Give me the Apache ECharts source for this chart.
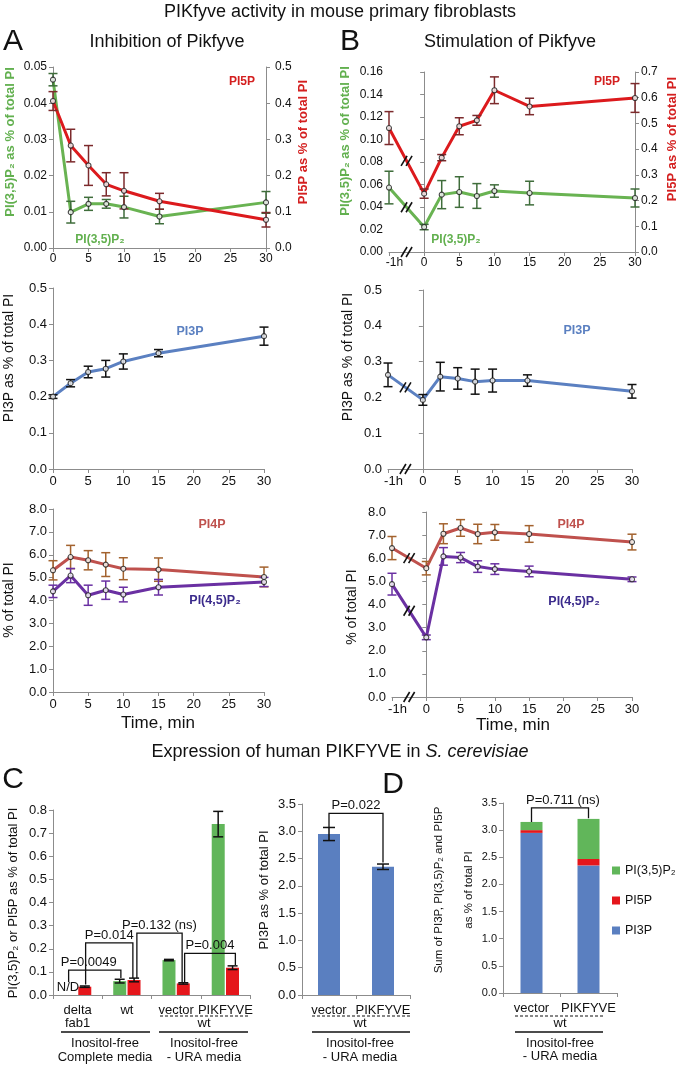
<!DOCTYPE html>
<html><head><meta charset="utf-8">
<script src="https://cdn.jsdelivr.net/npm/echarts/dist/echarts.min.js"></script>
<style>html,body{margin:0;padding:0;background:#fff}#c{width:680px;height:1065px}</style>
</head><body><div id="c"></div><script>
// ---------------- DATA ----------------
// Panel A: inhibition of Pikfyve (time, min)
const timeA = [0, 2.5, 5, 7.5, 10, 15, 30];
const aPI35P2 = [0.0465, 0.0099, 0.0122, 0.0122, 0.0113, 0.0087, 0.0126];
const aPI35P2Err = [0.0017, 0.0030, 0.0018, 0.0012, 0.0030, 0.0020, 0.0030];
const aPI5P = [0.406, 0.283, 0.228, 0.176, 0.158, 0.129, 0.078];
const aPI5PErr = [0.026, 0.045, 0.055, 0.032, 0.050, 0.022, 0.020];
const aPI3P = [0.200, 0.237, 0.268, 0.277, 0.297, 0.320, 0.367];
const aPI3PErr = [0.005, 0.010, 0.016, 0.023, 0.021, 0.010, 0.025];
const aPI4P = [5.32, 5.90, 5.76, 5.57, 5.39, 5.35, 5.03];
const aPI4PErr = [0.42, 0.51, 0.42, 0.52, 0.48, 0.51, 0.43];
const aPI45P2 = [4.40, 5.09, 4.23, 4.45, 4.26, 4.58, 4.81];
const aPI45P2Err = [0.27, 0.31, 0.44, 0.40, 0.32, 0.34, 0.20];

// Panel B: stimulation of Pikfyve; -5 on the axis is the "-1h" point
const timeB = [-5, 0, 2.5, 5, 7.5, 10, 15, 30];
const bPI35P2 = [0.0573, 0.0222, 0.0510, 0.0533, 0.0498, 0.0542, 0.0524, 0.0480];
const bPI35P2Err = [0.0145, 0.0024, 0.0125, 0.0136, 0.0110, 0.0055, 0.0105, 0.0080];
const bPI5P = [0.482, 0.227, 0.367, 0.489, 0.512, 0.629, 0.566, 0.599];
const bPI5PErr = [0.064, 0.018, 0.012, 0.033, 0.019, 0.052, 0.032, 0.056];
const bPI3P = [0.263, 0.193, 0.258, 0.253, 0.244, 0.247, 0.247, 0.217];
const bPI3PErr = [0.033, 0.015, 0.040, 0.030, 0.035, 0.032, 0.016, 0.019];
const bPI4P = [6.44, 5.57, 7.06, 7.31, 7.05, 7.12, 7.05, 6.70];
const bPI4PErr = [0.50, 0.29, 0.43, 0.36, 0.42, 0.34, 0.36, 0.34];
const bPI45P2 = [4.88, 2.58, 6.08, 6.03, 5.64, 5.53, 5.43, 5.09];
const bPI45P2Err = [0.47, 0.10, 0.38, 0.22, 0.25, 0.23, 0.23, 0.10];
const bFirstTickLabel = '-1h';

// Panel C: S. cerevisiae
const cCats = ['delta\nfab1', 'wt', 'vector', 'PIKFYVE'];
const cPI35P2 = [null, 0.060, 0.151, 0.739];   // delta fab1: N/D
const cPI35P2Err = [null, 0.008, 0.003, 0.055];
const cPI5P = [0.036, 0.065, 0.050, 0.118];
const cPI5PErr = [0.003, 0.008, 0.003, 0.008];
const cBrLabels = ['P=0.0049', 'P=0.014', 'P=0.132 (ns)', 'P=0.004'];
const cBrFrom = [[0, 0.056], [0, 0.045], [1, 0.073], [2, 0.056]];
const cBrTo = [[1, 0.073], [1, 0.073], [2, 0.056], [3, 0.130]];
const cBrTop = [0.108, 0.225, 0.268, 0.180];

const c3Cats = ['vector', 'PIKFYVE'];
const cPI3P = [2.95, 2.35];
const cPI3PErr = [0.12, 0.05];
const c3BrLabels = ['P=0.022'];
const c3BrFrom = [[0, 3.08]];
const c3BrTo = [[1, 2.43]];
const c3BrTop = [3.33];

// Panel D: stacked sums (same wt / -URA samples)
const dCats = ['vector', 'PIKFYVE'];
const dPI3P = [2.95, 2.35];
const dPI5P = [0.050, 0.118];
const dPI35P2 = [0.151, 0.739];
const dBrLabels = ['P=0.711 (ns)'];
const dBrFrom = [[0, 3.15]];
const dBrTo = [[1, 3.22]];
const dBrTop = [3.41];

// ---------------- STYLE ----------------
const FF = '"Liberation Sans", Arial, Helvetica, sans-serif';
const GREEN = '#69b352', GREEN_ERR = '#3f6d3b', GREEN_TXT = '#62b04f';
const RED = '#dc1a1d', RED_ERR = '#7c2a2c', RED_TXT = '#d42020';
const BLUE = '#5b80c1';
const PI4P_C = '#bf514d', PI4P_ERR = '#a3622e';
const PURPLE = '#6a30a2', PURPLE_TXT = '#3b2b8c';
const GREEN_BAR = '#61b65a', RED_BAR = '#e5161b', BLUE_BAR = '#5a7fc0';
const AX = '#8c8c8c';

const chart = echarts.init(document.getElementById('c'), null, {renderer: 'canvas'});

const grids = [
  {left: 53, top: 67, width: 213, height: 181},   // 0 A top
  {left: 53, top: 288, width: 211, height: 181},  // 1 A mid
  {left: 53, top: 509, width: 211, height: 183},  // 2 A bottom
  {left: 389, top: 72, width: 246, height: 180},  // 3 B top
  {left: 388, top: 290, width: 244, height: 179}, // 4 B mid
  {left: 392, top: 512, width: 240, height: 185}, // 5 B bottom
  {left: 53, top: 810, width: 197, height: 185},  // 6 C left
  {left: 302, top: 804, width: 108, height: 191}, // 7 C right
  {left: 503, top: 803, width: 114, height: 190}  // 8 D
];

function valAxis(grid, min, max, interval, dec, fs, extra) {
  return Object.assign({
    type: 'value', gridIndex: grid, min: min, max: max, interval: interval,
    axisLine: {show: true, lineStyle: {color: AX, width: 1}},
    axisTick: {show: true, length: 4, lineStyle: {color: AX}},
    splitLine: {show: false},
    axisLabel: {color: '#111', fontSize: fs, fontFamily: FF, margin: 6,
      formatter: v => v.toFixed(dec)}
  }, extra || {});
}
function catAxis(grid, cats, fs) {
  return {
    type: 'category', gridIndex: grid, data: cats,
    axisLine: {show: true, lineStyle: {color: AX, width: 1}},
    axisTick: {show: true, length: 4, lineStyle: {color: AX}, alignWithLabel: false},
    axisLabel: {color: '#111', fontSize: fs, fontFamily: FF, margin: 9, lineHeight: 13, interval: 0}
  };
}

const bFmt = v => (v === timeB[0] ? '{h|' + bFirstTickLabel + '}' : String(v));
const bRich = {h: {padding: [0, 0, 0, 11]}};
const xAxes = [
  valAxis(0, 0, 30, 5, 0, 12, {axisLabel: {color: '#111', fontSize: 12, fontFamily: FF, margin: 5}}),
  valAxis(1, 0, 30, 5, 0, 13, {axisLabel: {color: '#111', fontSize: 13, fontFamily: FF, margin: 6}}),
  valAxis(2, 0, 30, 5, 0, 13, {axisLabel: {color: '#111', fontSize: 13, fontFamily: FF, margin: 6}}),
  valAxis(3, -5, 30, 5, 0, 12, {axisLabel: {color: '#111', fontSize: 12, fontFamily: FF, margin: 5, formatter: bFmt, rich: bRich}}),
  valAxis(4, -5, 30, 5, 0, 13, {axisLabel: {color: '#111', fontSize: 13, fontFamily: FF, margin: 6, formatter: bFmt, rich: bRich}}),
  valAxis(5, -5, 30, 5, 0, 13, {axisLabel: {color: '#111', fontSize: 13, fontFamily: FF, margin: 6, formatter: bFmt, rich: bRich}}),
  catAxis(6, cCats, 13),
  catAxis(7, c3Cats, 13),
  catAxis(8, dCats, 13)
];
const yAxes = [
  valAxis(0, 0, 0.05, 0.01, 2, 12),                         // 0
  valAxis(0, 0, 0.5, 0.1, 1, 12, {position: 'right'}),      // 1
  valAxis(1, 0, 0.5, 0.1, 1, 13),                           // 2
  valAxis(2, 0, 8, 1, 1, 13),                               // 3
  valAxis(3, 0, 0.16, 0.02, 2, 12),                         // 4
  valAxis(3, 0, 0.7, 0.1, 1, 12, {position: 'right'}),      // 5
  valAxis(4, 0, 0.5, 0.1, 1, 13),                           // 6
  valAxis(5, 0, 8, 1, 1, 13),                               // 7
  valAxis(6, 0, 0.8, 0.1, 1, 13),                           // 8
  valAxis(7, 0, 3.5, 0.5, 1, 13),                           // 9
  valAxis(8, 0, 3.5, 0.5, 1, 11)                            // 10
];
yAxes[1].axisLabel.margin = 9;
yAxes[5].axisLabel.margin = 6;

function errRender(color, cap, dx, lw) {
  return function (params, api) {
    const lo = api.coord([api.value(0), api.value(1)]);
    const hi = api.coord([api.value(0), api.value(2)]);
    const x = lo[0] + dx;
    const st = {stroke: color, lineWidth: lw};
    return {type: 'group', children: [
      {type: 'line', shape: {x1: x, y1: lo[1], x2: x, y2: hi[1]}, style: st},
      {type: 'line', shape: {x1: x - cap, y1: lo[1], x2: x + cap, y2: lo[1]}, style: st},
      {type: 'line', shape: {x1: x - cap, y1: hi[1], x2: x + cap, y2: hi[1]}, style: st}
    ]};
  };
}
function errSeries(xi, yi, xs, vals, errs, color, cap, dx, lw, z) {
  const data = [];
  xs.forEach((x, i) => { if (vals[i] != null) data.push([x, vals[i] - errs[i], vals[i] + errs[i]]); });
  return {type: 'custom', xAxisIndex: xi, yAxisIndex: yi, z: z || 3, silent: true, animation: false,
    data: data, encode: {x: 0, y: [1, 2]}, renderItem: errRender(color, cap, dx, lw)};
}
function lineSet(xi, yi, xs, vals, errs, color, errColor) {
  const pts = xs.map((x, i) => [x, vals[i]]);
  return [
    {type: 'line', xAxisIndex: xi, yAxisIndex: yi, data: pts, showSymbol: false, silent: true,
      lineStyle: {color: color, width: 3}, z: 2, animation: false},
    errSeries(xi, yi, xs, vals, errs, errColor, 4.5, 0, 1.5, 3),
    {type: 'scatter', xAxisIndex: xi, yAxisIndex: yi, data: pts, symbol: 'circle', symbolSize: 5,
      itemStyle: {color: '#fff', borderColor: '#1a1a1a', borderWidth: 1.1}, z: 4, silent: true, animation: false}
  ];
}
function slashes(cx, cy) {
  const ch = [];
  [-2.5, 2.5].forEach(d => ch.push({type: 'line',
    shape: {x1: cx + d - 3, y1: cy + 5, x2: cx + d + 3, y2: cy - 5},
    style: {stroke: '#111', lineWidth: 1.6}}));
  return {type: 'group', children: ch};
}
// break mark drawn at the pixel midpoint of the segment between the first two points
function breakSeries(xi, yi, xs, vals) {
  return {type: 'custom', xAxisIndex: xi, yAxisIndex: yi, z: 6, silent: true, animation: false,
    data: [[xs[0], vals[0]], [xs[1], vals[1]]],
    renderItem: function (params, api) {
      if (params.dataIndex !== 0) return null;
      const p0 = api.coord([xs[0], vals[0]]);
      const p1 = api.coord([xs[1], vals[1]]);
      return slashes((p0[0] + p1[0]) / 2, (p0[1] + p1[1]) / 2);
    }};
}
function bracketSeries(xi, yi, labels, from, to, top, dxFrom, dxTo, textDx, fs) {
  return {type: 'custom', xAxisIndex: xi, yAxisIndex: yi, z: 7, silent: true, animation: false,
    data: labels.map((l, i) => [from[i][0], top[i]]),
    renderItem: function (params, api) {
      const i = params.dataIndex;
      const a = api.coord([from[i][0], from[i][1]]);
      const b = api.coord([to[i][0], to[i][1]]);
      const t = api.coord([from[i][0], top[i]])[1];
      const ax = a[0] + dxFrom[i], bx = b[0] + dxTo[i];
      return {type: 'group', children: [
        {type: 'polyline', shape: {points: [[ax, a[1]], [ax, t], [bx, t], [bx, b[1]]]},
          style: {stroke: '#111', lineWidth: 1.3, fill: null}},
        {type: 'text', x: (ax + bx) / 2 + textDx[i], y: t - 1,
          style: {text: labels[i], fill: '#111', fontSize: fs, fontFamily: FF,
            align: 'center', textAlign: 'center', verticalAlign: 'bottom', textVerticalAlign: 'bottom'}}
      ]};
    }};
}

let series = [];
// Panel A
series = series.concat(lineSet(0, 0, timeA, aPI35P2, aPI35P2Err, GREEN, GREEN_ERR));
series = series.concat(lineSet(0, 1, timeA, aPI5P, aPI5PErr, RED, RED_ERR));
series = series.concat(lineSet(1, 2, timeA, aPI3P, aPI3PErr, BLUE, '#111'));
series = series.concat(lineSet(2, 3, timeA, aPI4P, aPI4PErr, PI4P_C, PI4P_ERR));
series = series.concat(lineSet(2, 3, timeA, aPI45P2, aPI45P2Err, PURPLE, PURPLE));
// Panel B
series = series.concat(lineSet(3, 4, timeB, bPI35P2, bPI35P2Err, GREEN, GREEN_ERR));
series = series.concat(lineSet(3, 5, timeB, bPI5P, bPI5PErr, RED, RED_ERR));
series = series.concat(lineSet(4, 6, timeB, bPI3P, bPI3PErr, BLUE, '#111'));
series = series.concat(lineSet(5, 7, timeB, bPI4P, bPI4PErr, PI4P_C, PI4P_ERR));
series = series.concat(lineSet(5, 7, timeB, bPI45P2, bPI45P2Err, PURPLE, PURPLE));
series.push(breakSeries(3, 4, timeB, bPI35P2));
series.push(breakSeries(3, 5, timeB, bPI5P));
series.push(breakSeries(3, 4, timeB, [0, 0]));
series.push(breakSeries(4, 6, timeB, bPI3P));
series.push(breakSeries(4, 6, timeB, [0, 0]));
series.push(breakSeries(5, 7, timeB, bPI4P));
series.push(breakSeries(5, 7, timeB, bPI45P2));
series.push(breakSeries(5, 7, timeB, [0, 0]));

// Panel C left
const cIdx = cCats.map((c, i) => i);
series.push({type: 'bar', xAxisIndex: 6, yAxisIndex: 8, data: cPI35P2.map(v => v == null ? '-' : v),
  barWidth: 13, barGap: '10%', itemStyle: {color: GREEN_BAR}, silent: true, animation: false});
series.push({type: 'bar', xAxisIndex: 6, yAxisIndex: 8, data: cPI5P,
  barWidth: 13, barGap: '10%', itemStyle: {color: RED_BAR}, silent: true, animation: false});
series.push(errSeries(6, 8, cIdx, cPI35P2, cPI35P2Err, '#111', 5, -7.2, 1.5, 5));
series.push(errSeries(6, 8, cIdx, cPI5P, cPI5PErr, '#111', 5, 7.2, 1.5, 5));
series.push(bracketSeries(6, 8, cBrLabels, cBrFrom, cBrTo, cBrTop,
  [-9, 8, 10, 8.5], [-6, 6, 6, 10], [-6, 0, 0, 0], 13));
// Panel C right
series.push({type: 'bar', xAxisIndex: 7, yAxisIndex: 9, data: cPI3P, barWidth: 22,
  itemStyle: {color: BLUE_BAR}, silent: true, animation: false});
series.push(errSeries(7, 9, [0, 1], cPI3P, cPI3PErr, '#111', 6, 0, 1.5, 5));
series.push(bracketSeries(7, 9, c3BrLabels, c3BrFrom, c3BrTo, c3BrTop, [0], [0], [0], 13));
// Panel D
series.push({type: 'bar', name: 'PI3P', stack: 'd', xAxisIndex: 8, yAxisIndex: 10, data: dPI3P,
  barWidth: 22, itemStyle: {color: BLUE_BAR}, silent: true, animation: false});
series.push({type: 'bar', name: 'PI5P', stack: 'd', xAxisIndex: 8, yAxisIndex: 10, data: dPI5P,
  barWidth: 22, itemStyle: {color: RED_BAR}, silent: true, animation: false});
series.push({type: 'bar', name: 'PI(3,5)P\u2082', stack: 'd', xAxisIndex: 8, yAxisIndex: 10, data: dPI35P2,
  barWidth: 22, itemStyle: {color: GREEN_BAR}, silent: true, animation: false});
series.push(bracketSeries(8, 10, dBrLabels, dBrFrom, dBrTo, dBrTop, [0], [0], [3], 13));

// ---------------- TEXT ----------------
function txt(x, y, s, o) {
  o = o || {};
  return {type: 'text', x: x, y: y, rotation: o.rot || 0, z: 10, silent: true,
    style: {text: s, fill: o.color || '#111', fontSize: o.fs || 13, fontFamily: FF,
      fontWeight: o.bold ? 'bold' : 'normal', fontStyle: o.italic ? 'italic' : 'normal',
      align: o.align || 'center', textAlign: o.align || 'center',
      verticalAlign: 'middle', textVerticalAlign: 'middle', rich: o.rich}};
}
function hline(x1, x2, y, dash) {
  return {type: 'line', z: 10, silent: true, shape: {x1: x1, y1: y, x2: x2, y2: y},
    style: {stroke: '#111', lineWidth: dash ? 1 : 1.6, lineDash: dash ? [3, 2] : null}};
}
const R = Math.PI / 2;
const graphics = [
  txt(340, 12, 'PIKfyve activity in mouse primary fibroblasts', {fs: 18}),
  txt(13, 42, 'A', {fs: 30}),
  txt(350, 42, 'B', {fs: 30}),
  txt(167, 42, 'Inhibition of Pikfyve', {fs: 18}),
  txt(510, 42, 'Stimulation of Pikfyve', {fs: 18}),
  // series labels
  txt(242, 82, 'PI5P', {bold: true, color: RED_TXT, fs: 12}),
  txt(100, 240, 'PI(3,5)P\u2082', {bold: true, color: GREEN_TXT, fs: 12}),
  txt(607, 82, 'PI5P', {bold: true, color: RED_TXT, fs: 12}),
  txt(456, 240, 'PI(3,5)P\u2082', {bold: true, color: GREEN_TXT, fs: 12}),
  txt(190, 332, 'PI3P', {bold: true, color: BLUE, fs: 12.5}),
  txt(577, 331, 'PI3P', {bold: true, color: BLUE, fs: 12.5}),
  txt(212, 525, 'PI4P', {bold: true, color: PI4P_C, fs: 12.5}),
  txt(215, 601, 'PI(4,5)P\u2082', {bold: true, color: PURPLE_TXT, fs: 12.5}),
  txt(571, 525, 'PI4P', {bold: true, color: PI4P_C, fs: 12.5}),
  txt(574, 602, 'PI(4,5)P\u2082', {bold: true, color: PURPLE_TXT, fs: 12.5}),
  // axis names
  txt(10, 142, 'PI(3,5)P\u2082 as % of total PI', {rot: R, bold: true, color: GREEN_TXT, fs: 13}),
  txt(303, 142, 'PI5P as % of total PI', {rot: R, bold: true, color: RED_TXT, fs: 13}),
  txt(9, 358, 'PI3P as % of total PI', {rot: R, fs: 14}),
  txt(9, 600, '% of total PI', {rot: R, fs: 14}),
  txt(345, 141, 'PI(3,5)P\u2082 as % of total PI', {rot: R, bold: true, color: GREEN_TXT, fs: 13}),
  txt(672, 139, 'PI5P as % of total PI', {rot: R, bold: true, color: RED_TXT, fs: 13}),
  txt(348, 357, 'PI3P as % of total PI', {rot: R, fs: 14}),
  txt(352, 607, '% of total PI', {rot: R, fs: 14}),
  txt(158, 723, 'Time, min', {fs: 17}),
  txt(513, 725, 'Time, min', {fs: 17}),
  // lower half
  txt(340, 752, 'Expression of human PIKFYVE in {i|S. cerevisiae}', {fs: 18,
    rich: {i: {fontStyle: 'italic', fontSize: 18, fontFamily: FF, fill: '#111'}}}),
  txt(13, 780, 'C', {fs: 30}),
  txt(393, 785, 'D', {fs: 30}),
  txt(68, 987, 'N/D', {fs: 13}),
  txt(13, 903, 'PI(3,5)P\u2082 or PI5P as % of total PI', {rot: R, fs: 13}),
  txt(264, 890, 'PI3P as % of total PI', {rot: R, fs: 13}),
  txt(439, 890, 'Sum of PI3P, PI(3,5)P\u2082 and PI5P', {rot: R, fs: 11.5}),
  txt(469, 890, 'as % of total PI', {rot: R, fs: 11.5}),
  // C left annotations
  hline(160, 248, 1016, true),
  txt(204, 1023, 'wt', {fs: 13}),
  hline(61, 150, 1032), hline(159, 248, 1032),
  txt(105, 1043, 'Inositol-free', {fs: 13}), txt(105, 1057, 'Complete media', {fs: 13}),
  txt(204, 1043, 'Inositol-free', {fs: 13}), txt(204, 1057, '- URA media', {fs: 13}),
  // C right annotations
  hline(312, 410, 1016, true),
  txt(360, 1023, 'wt', {fs: 13}),
  hline(312, 410, 1032),
  txt(360, 1043, 'Inositol-free', {fs: 13}), txt(360, 1057, '- URA media', {fs: 13}),
  // D annotations
  hline(515, 603, 1016, true),
  txt(560, 1023, 'wt', {fs: 13}),
  hline(515, 603, 1032),
  txt(560, 1043, 'Inositol-free', {fs: 13}), txt(560, 1056, '- URA media', {fs: 13})
];

chart.setOption({
  animation: false,
  backgroundColor: '#fff',
  textStyle: {fontFamily: FF},
  grid: grids,
  xAxis: xAxes,
  yAxis: yAxes,
  legend: {data: ['PI(3,5)P\u2082', 'PI5P', 'PI3P'], orient: 'vertical', left: 607, top: 859,
    itemWidth: 8, itemHeight: 8, itemGap: 17, icon: 'rect', selectedMode: false,
    textStyle: {fontSize: 12.5, fontFamily: FF, color: '#111'}},
  series: series,
  graphic: graphics
});
</script></body></html>
